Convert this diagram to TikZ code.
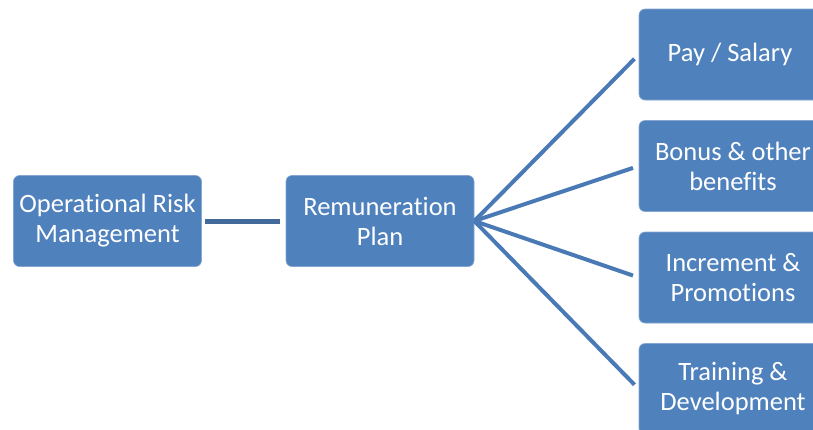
\documentclass[tikz,border=0pt]{standalone}
\usepackage{fontspec}
\setmainfont{Carlito}[Ligatures=NoCommon]
\definecolor{boxblue}{HTML}{4F81BD}
\definecolor{fanblue}{HTML}{4A7AB5}
\definecolor{linkblue}{HTML}{41699A}

\begin{document}
\begin{tikzpicture}[x = 1pt, y = -1pt, every node/.style={fill = boxblue, draw = boxblue!70!white, line width = 0.6pt, rounded corners = 6pt, text = white, inner sep = 0pt, minimum width = 188pt, minimum height = 91pt, align = center, font = \fontsize{26.5}{30}\selectfont}, fan/.style={draw = fanblue, line width = 4pt, shorten >= 6pt}]

  \useasboundingbox (0, 0) rectangle (813, 429);
  \clip (0, 0) rectangle (813, 429);

  \node (orm) at (107.5, 221) { Operational Risk\\Management };
  \node (plan) at (380, 221) { Remuneration\\Plan };

  \node (pay) at (733, 54.5) { Pay / Salary };
  \node (bonus) at (733, 166) { Bonus \& other\\benefits };
  \node (incr) at (733, 277.5) { Increment \&\\Promotions };
  \node (train) at (733, 389) { Training \&\\Development };

  \draw[linkblue, line width = 5pt, shorten <= 3pt, shorten >= 6pt] (orm.east) -- (plan.west);

  \draw[fan] (plan.east) -- (pay.west);
  \draw[fan] (plan.east) -- (bonus.west);
  \draw[fan] (plan.east) -- (incr.west);
  \draw[fan] (plan.east) -- (train.west);

\end{tikzpicture}
\end{document}
